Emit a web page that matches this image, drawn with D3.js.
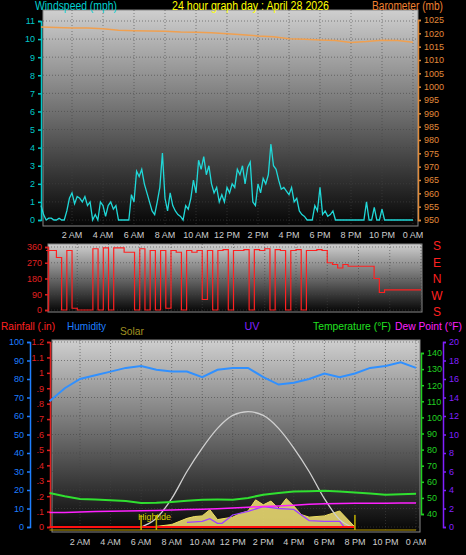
<!DOCTYPE html>
<html><head><meta charset="utf-8">
<script src="https://cdn.jsdelivr.net/npm/d3@7"></script>
<style>body{margin:0;background:#000}svg{display:block}text{font-family:"Liberation Sans",Arial,sans-serif}</style>
</head><body><svg id="c" width="466" height="555"></svg>
<script>
const hourLabels=["2 AM","4 AM","6 AM","8 AM","10 AM","12 PM","2 PM","4 PM","6 PM","8 PM","10 PM","0 AM"];
// wind, 10-minute samples (mph)
const wind=[0.8,0.3,0,0.1,0.1,0, 0,0.1,0,0,0.5,1.2, 1.5,0.9,1.3,1.2,1.0,1.3, 0.8,1.0,0,0.3,0,1.0,
 0.8,0.2,0.8,1.0,0.6,0.8, 0,0,0,0,0,1.4, 1.0,2.7,2.4,2.8,2.0,1.5, 1.0,0.5,0.3,1.0,1.8,3.7,
 1.2,0.5,1.5,0.8,0.5,0.3, 0.2,0,0.8,0.6,1.2,2.2, 1.5,3.3,2.8,3.5,2.5,3.0, 2.0,1.5,1.8,1.0,1.4,1.0,
 1.8,1.5,2.0,1.8,2.8,2.5, 3.0,2.0,2.9,3.2,1.0,0.8, 2.0,1.5,2.3,2.0,2.5,4.2, 3.0,2.8,2.2,1.7,1.8,1.6,
 1.4,1.8,1.0,1.2,0.5,0.3, 0.2,0,0,0,0.8,0.5, 1.8,0.3,0.5,0.2,0.3,0.5, 0,0,0,0,0,0,
 0,0,0,0,0,0, 1.0,0,0,0.7,0,0, 0.6,0,0,0,0,0, 0,0,0,0,0,0,0];
// barometer, hourly (mb)
const baro=[1022.4,1022.2,1022,1022,1021.7,1021.2,1021,1020.9,1020.8,1020.5,1020.4,1020.2,1019.8,1019.5,1019,1018.7,1018,1017.8,1017.5,1017.3,1016.6,1016.9,1017.4,1017.3,1016.7];
// wind direction, 20-minute samples (deg)
const dir=[340,340,300,0,340,10,0,0,0,350,0,355,0,355,355,330,330,0,350,0,340,0,340,10,340,330,0,340,330,340,60,340,0,340,345,0,340,340,345,0,345,340,350,0,345,340,0,340,345,0,340,340,345,340,270,260,240,260,250,250,250,250,250,180,100,115,115,115,115,115,115,115,115];
// humidity, hourly (%)
const hum=[68,75,80,82,84,86,87,85,84,84,81,85,86,86,81,77,78,80,83,81,83,86,87,89,86];
const temp=[53,51,49.3,49,48.5,48,46.8,47,47.5,48.2,48.9,49,48.9,50,52,53,54,54.2,54.4,54,53.4,52.8,52,52.2,52.6];
const dew=[41,41,41.3,41.5,41.7,41.8,42,42.2,42.5,42.8,43,43.3,43.7,44.2,44.7,45,45.5,46,46.4,46.5,46.6,46.7,46.7,46.8,46.8];
// solar (W/m2) and theoretical max
const solarHours=[6,7,8,9,9.5,10,10.5,11,12,12.5,13,13.5,14,14.5,15,15.5,16,16.5,17,18,18.5,19,20];
const solar=[0,5,20,70,85,90,140,60,80,110,130,220,180,210,150,230,170,100,80,90,110,130,0];
const solarMax=[0,60,230,450,640,800,905,935,905,800,640,450,230,60,0];
const solarMaxHours=[6,6.9,8,9,10,11,12,13,14,15,16,17,18,19,19.8];
const uvHours=[9,10,10.5,11,11.3,12,13,14,15,16,17,18,19,19.3];
const uv=[0.5,0.6,0.9,0.4,0.4,1.3,1.7,2.2,2.0,1.9,0.7,0.6,0.6,0];

const svg=d3.select("#c");
const defs=svg.append("defs");
const g=defs.append("linearGradient").attr("id","bg").attr("x1",0).attr("y1",0).attr("x2",0).attr("y2",1);
g.append("stop").attr("offset",0).attr("stop-color","#cfcfcf");
g.append("stop").attr("offset",0.5).attr("stop-color","#6a6a6a");
g.append("stop").attr("offset",1).attr("stop-color","#050505");

function panel(x0,y0,x1,y1){
  svg.append("rect").attr("x",x0).attr("y",y0).attr("width",x1-x0).attr("height",y1-y0).attr("fill","url(#bg)").attr("stroke","#888");
}
function text(x,y,s,c,anchor,size,len){const t=svg.append("text").attr("x",x).attr("y",y).attr("fill",c).attr("font-size",size||11).attr("text-anchor",anchor||"start").text(s);
  if(len)t.attr("textLength",len).attr("lengthAdjust","spacingAndGlyphs");}
function grid(x,yScale,vals,x0,x1,y0,y1){
  const G=svg.append("g").attr("stroke","#444").attr("stroke-dasharray","1,2").attr("stroke-width",0.6);
  d3.range(2,25,2).forEach(h=>G.append("line").attr("x1",x(h)).attr("x2",x(h)).attr("y1",y0).attr("y2",y1));
  vals.forEach(v=>G.append("line").attr("x1",x0).attr("x2",x1).attr("y1",yScale(v)).attr("y2",yScale(v)));
}
function xlabels(x,y){hourLabels.forEach((l,i)=>text(x((i+1)*2),y,l,"#ccc","middle",9));}
function leftAxis(scale,xpos,ticks,col,fmt){
  const a=svg.append("g").attr("transform",`translate(${xpos},0)`).call(d3.axisLeft(scale).tickValues(ticks).tickSize(3).tickFormat(fmt||d3.format("d")));
  a.selectAll("path,line").attr("stroke",col).attr("stroke-width",1.5);a.selectAll("text").attr("fill",col).attr("font-size",9).attr("font-family","Liberation Sans");
}
function rightAxis(scale,xpos,ticks,col){
  const a=svg.append("g").attr("transform",`translate(${xpos},0)`).call(d3.axisRight(scale).tickValues(ticks).tickSize(3).tickFormat(d3.format("d")));
  a.selectAll("path,line").attr("stroke",col).attr("stroke-width",1.5);a.selectAll("text").attr("fill",col).attr("font-size",9).attr("font-family","Liberation Sans");
}
const t20=(d,i)=>i/3, t10=(d,i)=>i/6;

// Top panel
const x1=d3.scaleLinear().domain([0,24]).range([41,413]);
const yW=d3.scaleLinear().domain([0,11]).range([220,21]);
const yB=d3.scaleLinear().domain([950,1025]).range([220,20]);
panel(43,10,418,226);
grid(x1,yW,d3.range(0,12),43,418,10,226);
leftAxis(yW,41,d3.range(0,12),"#00c8c8");
rightAxis(yB,418,d3.range(950,1026,5),"#e08a3a");
svg.append("path").datum(baro).attr("fill","none").attr("stroke","#f0a050").attr("stroke-width",1.5)
 .attr("d",d3.line().x((d,i)=>x1(i)).y(d=>yB(d)));
svg.append("path").datum(wind).attr("fill","none").attr("stroke","#20d8d8").attr("stroke-width",1.3)
 .attr("d",d3.line().x((d,i)=>x1(t10(d,i))).y(d=>yW(d)));
xlabels(x1,238);
text(35,10,"Windspeed (mph)","#00d0d0","start",12,82);
text(172,10,"24 hour graph day : April 28 2026","#ffff00","start",12,157);
text(372,10,"Barometer (mb)","#f08030","start",12,71);

// Direction panel
const x2=d3.scaleLinear().domain([0,24]).range([46,421]);
const yD=d3.scaleLinear().domain([0,360]).range([310,247]);
panel(48,244,422,312);
grid(x2,yD,[0,90,180,270,360],48,422,244,312);
leftAxis(yD,48,[0,90,180,270,360],"#e02020");
svg.append("path").datum(dir).attr("fill","none").attr("stroke","#ff2020").attr("stroke-width",1.2)
 .attr("d",d3.line().x((d,i)=>x2(t20(d,i))).y(d=>yD(d)).curve(d3.curveStepAfter));
["S","E","N","W","S"].forEach((s,i)=>text(437,250+i*16.5,s,"#ff2020","middle",12));

// Bottom panel
const x3=d3.scaleLinear().domain([0,24]).range([49.5,416]);
const yH=d3.scaleLinear().domain([0,100]).range([527,342]);
const yR=d3.scaleLinear().domain([0,1.2]).range([527,342]);
const yT=d3.scaleLinear().domain([40,140]).range([514,353]);
const yU=d3.scaleLinear().domain([0,20]).range([527,342]);
const yS=d3.scaleLinear().domain([0,1500]).range([527,342]);
panel(52,340,420,532);
grid(x3,yH,d3.range(0,101,10),52,420,340,532);
leftAxis(yH,30,d3.range(0,101,10),"#1e7fff");
leftAxis(yR,50,d3.range(0,1.21,0.1),"#e02020",d=>d==0?"0":(d>=1?d3.format(".1f")(d).replace(/\.0$/,""):d3.format(".1f")(d).replace(/^0/,"")));
rightAxis(yT,421,d3.range(40,141,10),"#20d020");
rightAxis(yU,443,d3.range(0,21,2),"#8020ff");
svg.append("path").datum(solar).attr("fill","#e8d870").attr("fill-opacity",0.9).attr("stroke","#f0e060")
 .attr("d",d3.area().x((d,i)=>x3(solarHours[i])).y0(yS(0)).y1(d=>yS(d)));
svg.append("path").datum(solarMax).attr("fill","none").attr("stroke","#d0d0d0").attr("stroke-width",1.3)
 .attr("d",d3.line().x((d,i)=>x3(solarMaxHours[i])).y(d=>yS(d)).curve(d3.curveMonotoneX));
svg.append("path").datum(uv).attr("fill","none").attr("stroke","#a040ff").attr("stroke-width",1.3)
 .attr("d",d3.line().x((d,i)=>x3(uvHours[i])).y(d=>yU(d)));
svg.append("path").datum(dew).attr("fill","none").attr("stroke","#ff20ff").attr("stroke-width",1.5)
 .attr("d",d3.line().x((d,i)=>x3(i)).y(d=>yT(d)));
svg.append("path").datum(temp).attr("fill","none").attr("stroke","#30e030").attr("stroke-width",2)
 .attr("d",d3.line().x((d,i)=>x3(i)).y(d=>yT(d)));
svg.append("path").datum(hum).attr("fill","none").attr("stroke","#3090ff").attr("stroke-width",2)
 .attr("d",d3.line().x((d,i)=>x3(i)).y(d=>yH(d)));
svg.append("line").attr("x1",x3(0)).attr("x2",x3(20)).attr("y1",yR(0)).attr("y2",yR(0)).attr("stroke","#ff1010").attr("stroke-width",2);
svg.append("line").attr("x1",x3(0)).attr("x2",x3(24)).attr("y1",yR(0)+3).attr("y2",yR(0)+3).attr("stroke","#c0a000").attr("stroke-width",1);
[6,7,20].forEach(h=>svg.append("line").attr("x1",x3(h)).attr("x2",x3(h)).attr("y1",yR(0)+3).attr("y2",yR(0)-12).attr("stroke","#c0b000").attr("stroke-width",1.5));
text(138,520,"Hightide","#d8d000","start",9);
xlabels(x3,545);
text(1,330,"Rainfall (.in)","#ff2020","start",11,54);
text(67,330,"Humidity","#1e7fff","start",11,39);
text(120,335,"Solar","#a09020","start",11,24);
text(252,330,"UV","#8020ff","middle",11,15);
text(313,330,"Temperature (°F)","#20e020","start",11,78);
text(395,330,"Dew Point (°F)","#ff20ff","start",11,67);
</script></body></html>
